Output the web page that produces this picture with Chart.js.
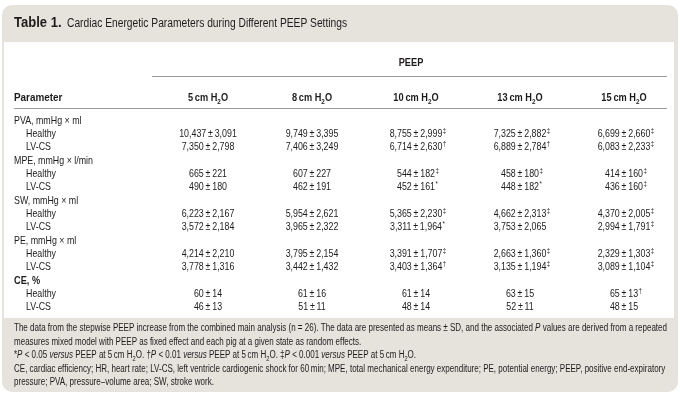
<!DOCTYPE html>
<html>
<head>
<meta charset="utf-8">
<script src="https://cdn.jsdelivr.net/npm/chart.js@4"></script>
<style>
  html, body { margin: 0; padding: 0; background: #fff; }
  canvas { display: block; }
</style>
</head>
<body>
<canvas id="tbl" width="680" height="400"></canvas>
<script>
// PEEP settings (columns) and parameter rows
const peepLevels = [5, 8, 10, 13, 15];
const rowLabels = [
    'PVA, mmHg × ml', 'Healthy', 'LV-CS',
    'MPE, mmHg × l/min', 'Healthy', 'LV-CS',
    'SW, mmHg × ml', 'Healthy', 'LV-CS',
    'PE, mmHg × ml', 'Healthy', 'LV-CS',
    'CE, %', 'Healthy', 'LV-CS'
];
const groupRows = [0, 3, 6, 9, 12];
const boldRows = [12];

// mean ± SD per PEEP column, trailing mark = significance
const peep5  = ['', '10,437 ± 3,091', '7,350 ± 2,798', '', '665 ± 221', '490 ± 180', '', '6,223 ± 2,167', '3,572 ± 2,184', '', '4,214 ± 2,210', '3,778 ± 1,316', '', '60 ± 14', '46 ± 13'];
const peep8  = ['', '9,749 ± 3,395', '7,406 ± 3,249', '', '607 ± 227', '462 ± 191', '', '5,954 ± 2,621', '3,965 ± 2,322', '', '3,795 ± 2,154', '3,442 ± 1,432', '', '61 ± 16', '51 ± 11'];
const peep10 = ['', '8,755 ± 2,999‡', '6,714 ± 2,630†', '', '544 ± 182‡', '452 ± 161*', '', '5,365 ± 2,230‡', '3,311 ± 1,964*', '', '3,391 ± 1,707‡', '3,403 ± 1,364†', '', '61 ± 14', '48 ± 14'];
const peep13 = ['', '7,325 ± 2,882‡', '6,889 ± 2,784†', '', '458 ± 180‡', '448 ± 182*', '', '4,662 ± 2,313‡', '3,753 ± 2,065', '', '2,663 ± 1,360‡', '3,135 ± 1,194‡', '', '63 ± 15', '52 ± 11'];
const peep15 = ['', '6,699 ± 2,660‡', '6,083 ± 2,233‡', '', '414 ± 160‡', '436 ± 160‡', '', '4,370 ± 2,005‡', '2,994 ± 1,791‡', '', '2,329 ± 1,303‡', '3,089 ± 1,104‡', '', '65 ± 13†', '48 ± 15'];
const columns = [peep5, peep8, peep10, peep13, peep15];

const FONT = '"Liberation Sans", Arial, sans-serif';
const INK = '#1e1b1c';
const BEIGE = '#e5e3dc';
const COND = 0.77;   // fake condensed face
const COND_B = 0.8;

function runFont(r, size) {
    const s = (r.sub || r.sup) ? Math.round(size * 0.68) : size;
    return (r.i ? 'italic ' : '') + (r.b ? 'bold ' : '') + s + 'px ' + FONT;
}

function measureRuns(ctx, runs, size) {
    let w = 0;
    runs.forEach(r => { ctx.font = runFont(r, size); w += ctx.measureText(r.t).width; });
    return w;
}

// draw a line of mixed text (bold / italic / sub / sup), squeezed by sx
function drawRuns(ctx, runs, x, y, size, align, sx) {
    const total = measureRuns(ctx, runs, size) * sx;
    const start = align === 'center' ? x - total / 2 : (align === 'right' ? x - total : x);
    ctx.save();
    ctx.translate(start, y);
    ctx.scale(sx, 1);
    ctx.fillStyle = INK;
    ctx.textAlign = 'left';
    ctx.textBaseline = 'alphabetic';
    let cx = 0;
    runs.forEach(r => {
        ctx.font = runFont(r, size);
        const dy = r.sub ? size * 0.25 : (r.sup ? -size * 0.38 : 0);
        ctx.fillText(r.t, cx, dy);
        cx += ctx.measureText(r.t).width;
    });
    ctx.restore();
    return total;
}

function roundRect(ctx, x, y, w, h, r) {
    ctx.beginPath();
    ctx.moveTo(x + r, y);
    ctx.arcTo(x + w, y, x + w, y + h, r);
    ctx.arcTo(x + w, y + h, x, y + h, r);
    ctx.arcTo(x, y + h, x, y, r);
    ctx.arcTo(x, y, x + w, y, r);
    ctx.closePath();
}

const T = '\u2009';
const fmt = s => s.replace(/ ± /g, T + '±' + T);

const footLines = [
    [{ t: 'The data from the stepwise PEEP increase from the combined main analysis (n = 26). The data are presented as means ± SD, and the associated ' }, { t: 'P', i: true }, { t: ' values are derived from a repeated' }],
    [{ t: 'measures mixed model with PEEP as fixed effect and each pig at a given state as random effects.' }],
    [{ t: '*' }, { t: 'P', i: true }, { t: ' < 0.05 ' }, { t: 'versus', i: true }, { t: ' PEEP at 5' + T + 'cm H' }, { t: '2', sub: true }, { t: 'O. †' },
     { t: 'P', i: true }, { t: ' < 0.01 ' }, { t: 'versus', i: true }, { t: ' PEEP at 5' + T + 'cm H' }, { t: '2', sub: true }, { t: 'O. ‡' },
     { t: 'P', i: true }, { t: ' < 0.001 ' }, { t: 'versus', i: true }, { t: ' PEEP at 5' + T + 'cm H' }, { t: '2', sub: true }, { t: 'O.' }],
    [{ t: 'CE, cardiac efficiency; HR, heart rate; LV-CS, left ventricle cardiogenic shock for 60' + T + 'min; MPE, total mechanical energy expenditure; PE, potential energy; PEEP, positive end-expiratory' }],
    [{ t: 'pressure; PVA, pressure–volume area; SW, stroke work.' }]
];

const tablePlugin = {
    id: 'tableFrame',
    beforeDraw(chart) {
        const ctx = chart.ctx;
        const xs = chart.scales.x, ys = chart.scales.y;
        ctx.save();
        ctx.fillStyle = '#fff';
        ctx.fillRect(0, 0, chart.width, chart.height);
        ctx.fillStyle = BEIGE;
        roundRect(ctx, 2, 5, 676, 387, 10);
        ctx.fill();
        ctx.fillStyle = '#fff';
        ctx.fillRect(4, 42, 670, 276);

        // title
        drawRuns(ctx, [{ t: 'Table 1.', b: true }], 14, 27, 14, 'left', 0.93);
        drawRuns(ctx, [{ t: 'Cardiac Energetic Parameters during Different PEEP Settings' }], 67, 27, 12.5, 'left', 0.82);

        // column headers
        drawRuns(ctx, [{ t: 'PEEP', b: true }], 411, 66, 11.5, 'center', COND_B);
        ctx.strokeStyle = '#9a9a9a';
        ctx.lineWidth = 1.2;
        ctx.beginPath();
        ctx.moveTo(152, 76.5);
        ctx.lineTo(667, 76.5);
        ctx.moveTo(14, 108.5);
        ctx.lineTo(667, 108.5);
        ctx.stroke();
        drawRuns(ctx, [{ t: 'Parameter', b: true }], 14, 101, 11.5, 'left', 0.86);
        peepLevels.forEach((p, c) => {
            drawRuns(ctx, [{ t: p + T + 'cm H', b: true }, { t: '2', b: true, sub: true }, { t: 'O', b: true }],
                xs.getPixelForValue(c), 101, 11.5, 'center', COND_B);
        });

        // row labels
        rowLabels.forEach((lab, r) => {
            const y = ys.getPixelForValue(r) + 4;
            const isGroup = groupRows.includes(r);
            const b = boldRows.includes(r);
            drawRuns(ctx, [{ t: lab, b: b }], isGroup ? 14 : 26, y, 11.5, 'left', b ? COND_B : COND);
        });

        // footnotes: squeeze so the first line runs the full width
        const fsx = 653 / measureRuns(ctx, footLines[0], 10);
        footLines.forEach((runs, i) => {
            drawRuns(ctx, runs, 14, 331 + i * 13.6, 10, 'left', fsx);
        });
        ctx.restore();
    },
    afterDatasetsDraw(chart) {
        const ctx = chart.ctx;
        chart.data.datasets.forEach((ds, d) => {
            const meta = chart.getDatasetMeta(d);
            meta.data.forEach((el, i) => {
                const m = ds.data[i].txt.match(/^(.*?)([‡†*]?)$/);
                const w = drawRuns(ctx, [{ t: fmt(m[1]) }], el.x, el.y + 4, 11.5, 'center', COND);
                if (m[2]) drawRuns(ctx, [{ t: m[2], sup: true }], el.x + w / 2 + 0.5, el.y + 4, 11.5, 'left', COND);
            });
        });
    }
};

const datasets = columns.map((col, c) => ({
    label: peepLevels[c] + ' cm H2O',
    data: col.map((v, r) => ({ x: c, y: r, txt: v })).filter(p => p.txt),
    pointRadius: 0,
    pointHoverRadius: 0,
    showLine: false
}));

new Chart(document.getElementById('tbl'), {
    type: 'scatter',
    data: { datasets: datasets },
    options: {
        responsive: false,
        animation: false,
        events: [],
        layout: { padding: { top: 113, bottom: 87, left: 156, right: 4 } },
        plugins: { legend: { display: false }, tooltip: { enabled: false } },
        scales: {
            x: { type: 'linear', display: false, min: -0.5, max: 4.5 },
            y: { type: 'linear', display: false, min: -0.5, max: 14.5, reverse: true }
        }
    },
    plugins: [tablePlugin]
});
</script>
</body>
</html>
